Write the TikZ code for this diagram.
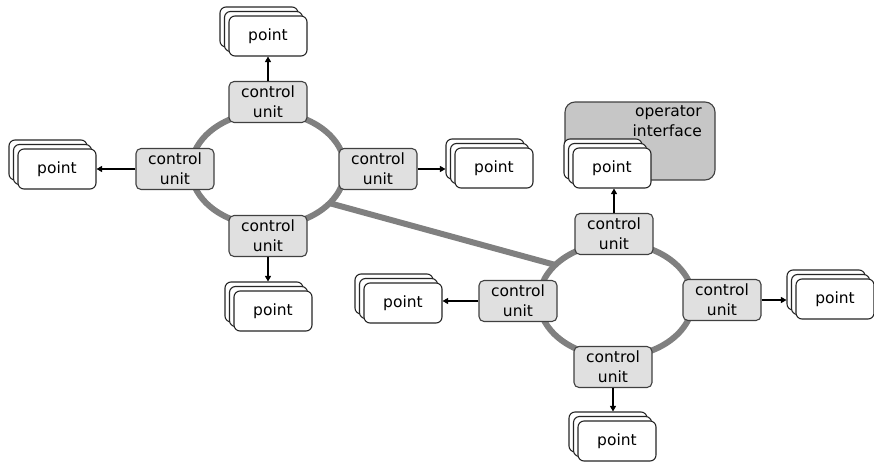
\documentclass[tikz,border=0pt]{standalone}
\usepackage{fontspec}
\setmainfont{DejaVu Sans}
\usepackage{tikz}
\usetikzlibrary{shapes,arrows.meta,positioning}

\definecolor{ringgray}{HTML}{808080}
\definecolor{unitgray}{HTML}{E0E0E0}
\definecolor{opgray}{HTML}{C6C6C6}
\definecolor{edgegray}{HTML}{404040}

\tikzset{
  ring/.style={ellipse, draw=ringgray, line width=6pt, minimum width=154pt, minimum height=114pt, inner sep=0pt, outer sep=0pt},
  cunit/.style={draw=edgegray, fill=unitgray, rounded corners=5pt, minimum width=78pt, minimum height=41pt, inner sep=0pt, align=center, line width=1.1pt, font=\fontsize{15.5}{20}\selectfont},
  pointbox/.style={draw=black!85, fill=white, rounded corners=6pt, minimum width=78pt, minimum height=40pt, inner sep=0pt, line width=1.1pt, font=\fontsize{15.5}{20}\selectfont},
  opbox/.style={draw=edgegray, fill=opgray, rounded corners=10pt, minimum width=150pt, minimum height=78pt, line width=1.1pt},
  feed/.style={-{Triangle[length=5.5pt,width=6pt]}, line width=1.1pt},
}

% three stacked point boxes, the front one named #1
\newcommand{\pointstack}[2]{%
  \node[pointbox, xshift=-9pt, yshift=9pt] (#1c) at (#2) {};
  \node[pointbox, xshift=-4.5pt, yshift=4.5pt] (#1b) at (#2) {};
  \node[pointbox] (#1) at (#2) {point};
}

\begin{document}
\begin{tikzpicture}[x=1pt,y=-1pt]
    \useasboundingbox (0,0) rectangle (874,463);

    % rings
    \node[ring] (ringA) at (268,169) {};
    \node[ring] (ringB) at (616,300) {};
    \draw[ringgray, line width=6pt] (ringA.331) -- (ringB.150);

    % operator interface
    \node[opbox] (opint) at (640,141) {};
    \node[anchor=north east, align=right, inner sep=0pt, font=\fontsize{15.5}{20}\selectfont] (optitle) at (702,105) {operator\\interface};

    % control units
    \node[cunit] (cuA1) at (268,102) {control\\unit};
    \node[cunit] (cuA2) at (175,169) {control\\unit};
    \node[cunit] (cuA3) at (378,169) {control\\unit};
    \node[cunit] (cuA4) at (268,236) {control\\unit};

    \node[cunit] (cuB1) at (614,234) {control\\unit};
    \node[cunit] (cuB2) at (518,301) {control\\unit};
    \node[cunit] (cuB3) at (722,300) {control\\unit};
    \node[cunit] (cuB4) at (613,367) {control\\unit};

    % points
    \pointstack{ptA1}{268,36}
    \pointstack{ptA2}{57,169}
    \pointstack{ptA3}{494,168}
    \pointstack{ptA4}{273,311}

    \pointstack{ptB1}{612,168}
    \pointstack{ptB2}{403,303}
    \pointstack{ptB3}{835,299}
    \pointstack{ptB4}{617,441}

    % feeds
    \draw[feed] (cuA1.north) -- (cuA1.north |- ptA1.south);
    \draw[feed] (cuA2.west) -- (cuA2.west -| ptA2.east);
    \draw[feed] (cuA3.east) -- (cuA3.east -| ptA3c.west);
    \draw[feed] (cuA4.south) -- (cuA4.south |- ptA4c.north);

    \draw[feed] (cuB1.north) -- (cuB1.north |- ptB1.south);
    \draw[feed] (cuB2.west) -- (cuB2.west -| ptB2.east);
    \draw[feed] (cuB3.east) -- (cuB3.east -| ptB3c.west);
    \draw[feed] (cuB4.south) -- (cuB4.south |- ptB4c.north);
\end{tikzpicture}
\end{document}
